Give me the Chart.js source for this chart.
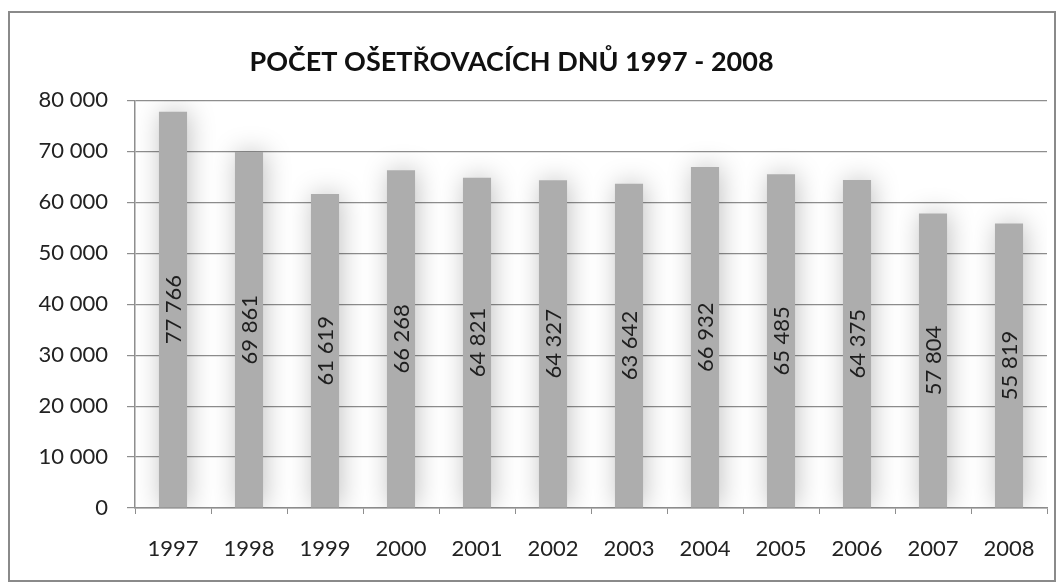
<!DOCTYPE html>
<html>
<head>
<meta charset="utf-8">
<title>Počet ošetřovacích dnů 1997 - 2008</title>
<script src="https://cdn.jsdelivr.net/npm/chart.js@4/dist/chart.umd.min.js"></script>
<style>
  html, body { margin: 0; padding: 0; background: #fff; }
  #wrap { position: relative; width: 1062px; height: 587px; }
</style>
</head>
<body>
<div id="wrap"><canvas id="chart" width="1062" height="587"></canvas></div>
<script>
// data
const roky = ['1997', '1998', '1999', '2000', '2001', '2002', '2003', '2004', '2005', '2006', '2007', '2008'];
const dny = [77766, 69861, 61619, 66268, 64821, 64327, 63642, 66932, 65485, 64375, 57804, 55819];
const osaY = [0, 10000, 20000, 30000, 40000, 50000, 60000, 70000, 80000];

const FONT = 'Lato, "Open Sans", sans-serif';
const SEDA_MRIZKA = '#8e8e8e';

// cisla s mezerou jako oddelovacem tisicu
function formatCislo(v) {
  return String(v).replace(/\B(?=(\d{3})+(?!\d))/g, ' ');
}

// ramecek kolem cele plochy grafu
const ramecek = {
  id: 'ramecek',
  beforeDraw(chart) {
    const c = chart.ctx;
    c.save();
    c.strokeStyle = '#8a8a8a';
    c.lineWidth = 2;
    c.strokeRect(9, 12, 1046, 569);
    c.restore();
  }
};

// nadpis je v Excelu trochu vlevo od stredu
const posunNadpisu = {
  id: 'posunNadpisu',
  afterLayout(chart) {
    const t = chart.titleBlock;
    if (t) { t.left -= 22; t.right -= 22; t.top += 2; t.bottom += 2; }
  }
};

// stin pod sloupci (jako v Excelu)
const stin = {
  id: 'stin',
  beforeDatasetsDraw(chart) {
    const c = chart.ctx;
    c.save();
    c.shadowColor = 'rgba(0,0,0,0.25)';
    c.shadowBlur = 26;
    c.shadowOffsetX = 2;
  },
  afterDatasetsDraw(chart) {
    chart.ctx.restore();
  }
};

// popisky hodnot svisle uprostred sloupce
const popisky = {
  id: 'popisky',
  afterDatasetsDraw(chart) {
    const c = chart.ctx;
    const meta = chart.getDatasetMeta(0);
    c.save();
    c.fillStyle = '#1e1e1e';
    c.font = '22px ' + FONT;
    c.textAlign = 'center';
    c.textBaseline = 'middle';
    meta.data.forEach((bar, i) => {
      const p = bar.getProps(['x', 'y', 'base'], true);
      c.save();
      c.translate(p.x, (p.y + p.base) / 2);
      c.rotate(-Math.PI / 2);
      c.fillText(formatCislo(dny[i]), 0, 1);
      c.restore();
    });
    c.restore();
  }
};

new Chart(document.getElementById('chart'), {
  type: 'bar',
  data: {
    labels: roky,
    datasets: [{
      label: 'Počet ošetřovacích dnů',
      data: dny,
      backgroundColor: '#adadad',
      borderWidth: 0,
      barPercentage: 0.74,
      categoryPercentage: 0.5
    }]
  },
  plugins: [ramecek, posunNadpisu, stin, popisky],
  options: {
    responsive: false,
    animation: false,
    layout: { padding: { left: 20, right: 15, top: 36, bottom: 22 } },
    plugins: {
      legend: { display: false },
      tooltip: { enabled: false },
      title: {
        display: true,
        text: 'POČET OŠETŘOVACÍCH DNŮ 1997 - 2008',
        color: '#111',
        font: { family: FONT, size: 27, weight: 'bold' },
        padding: { top: 8, bottom: 24 }
      }
    },
    scales: {
      x: {
        grid: {
          display: true,
          drawOnChartArea: false,
          drawTicks: true,
          tickLength: 6,
          color: SEDA_MRIZKA
        },
        border: { display: true, color: SEDA_MRIZKA, width: 1.5 },
        ticks: {
          color: '#222',
          padding: 22,
          font: { family: FONT, size: 22 }
        },
        afterFit(scale) { scale.height = 57; }
      },
      y: {
        min: 0,
        max: 80000,
        afterBuildTicks(scale) { scale.ticks = osaY.map(v => ({ value: v })); },
        grid: {
          color: SEDA_MRIZKA,
          lineWidth: 1.2,
          drawTicks: true,
          tickLength: 8
        },
        border: { display: true, color: SEDA_MRIZKA, width: 1.5 },
        ticks: {
          color: '#222',
          padding: 19,
          font: { family: FONT, size: 22 },
          callback: v => formatCislo(v)
        },
        afterFit(scale) { scale.width = 115; }
      }
    }
  }
});
</script>
</body>
</html>
